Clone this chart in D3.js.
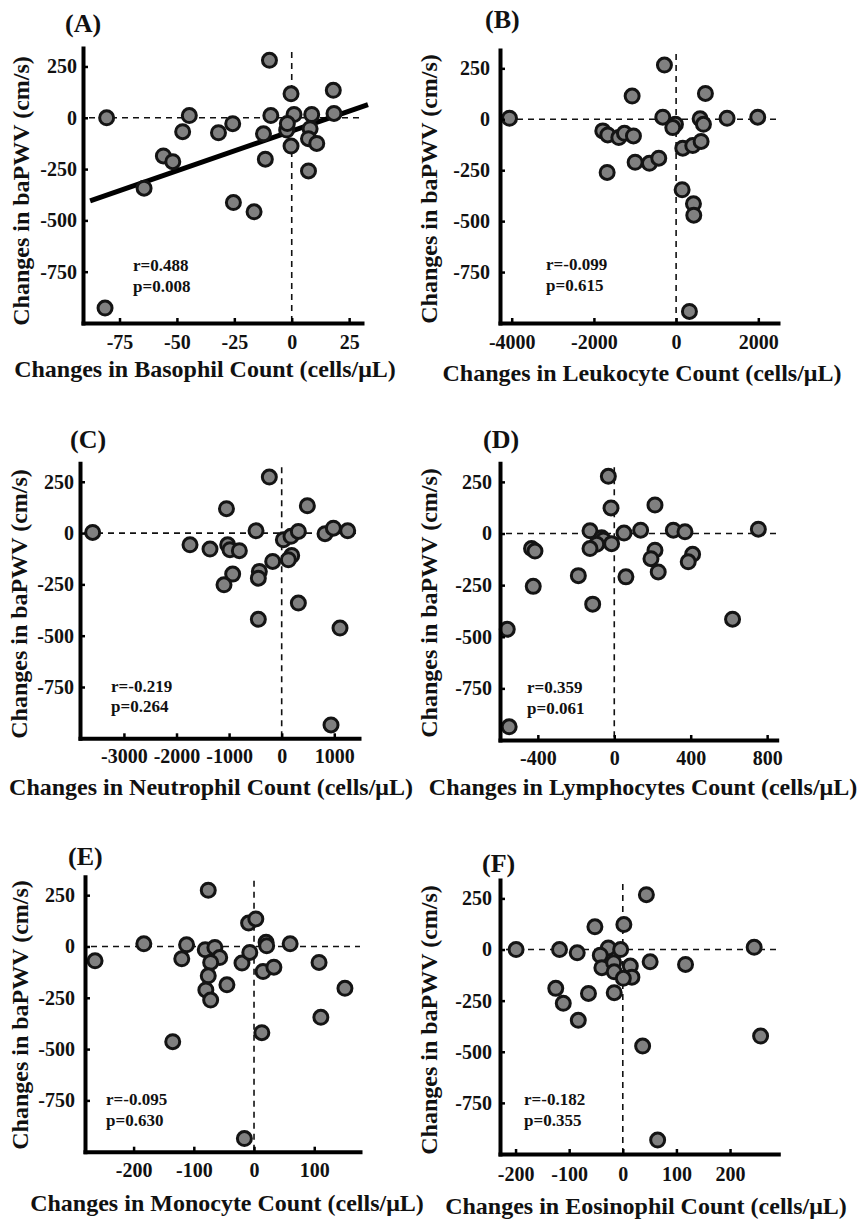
<!DOCTYPE html>
<html><head><meta charset="utf-8">
<script src="https://cdn.jsdelivr.net/npm/d3@7"></script>
<style>
html,body{margin:0;padding:0;background:#fff;}
svg{display:block;}
text{font-family:"Liberation Serif","Times New Roman",serif;font-weight:bold;fill:#111;}
</style></head><body>
<svg id="chart" width="860" height="1220"></svg>
<script>
// ---------- DATA ----------
const yTicks = [250, 0, -250, -500, -750];
const yTitle = "Changes in baPWV (cm/s)";

// (A) Basophil
const basophilTicks = [-75, -50, -25, 0, 25];
const basophilX = [-80.6, -81.3, -44.6, -47.5, -55.9, -51.8, -64.3, -31.9, -25.7, -25.4, -16.4, -9.7, -9.1, -12.3, -11.5, -0.3, 1.0, -2.2, -0.3, -1.9, 8.7, 8.0, 7.3, 10.9, 7.3, 18.4, 18.1];
const basophilY = [0, -927, 11, -68, -186, -214, -343, -73, -29, -413, -458, 280, 11, -78, -202, 117, 16, -60, -138, -28, 16, -53, -102, -125, -259, 21, 134];
const basophilFitX = [-87.8, 33.2];
const basophilFitCoef = [-64.2, 3.88]; // intercept, slope

// (B) Leukocyte
const leukocyteTicks = [-4000, -2000, 0, 2000];
const leukocyteX = [-4054, -284, -1070, 713, -324, -16, -81, 584, 665, 1240, 1986, -1784, -1662, -1394, -1257, -1038, -1678, -997, -649, -422, 162, 405, 608, 146, 422, 430, 324];
const leukocyteY = [5, 266, 114, 127, 10, -25, -41, 2, -25, 5, 10, -57, -77, -90, -69, -82, -261, -211, -216, -191, -142, -129, -109, -346, -415, -471, -943];

// (C) Neutrophil
const neutrophilTicks = [-3000, -2000, -1000, 0, 1000];
const neutrophilX = [-3594, -235, -1050, 488, -488, -1743, -1363, -1027, -983, -805, -932, -1097, -425, -444, -171, -444, 32, 177, 317, 190, 127, 317, 824, 983, 1255, 1109, 938];
const neutrophilY = [3, 273, 119, 133, 11, -57, -78, -57, -81, -86, -200, -252, -187, -220, -138, -420, -33, -16, 8, -109, -130, -341, -3, 24, 11, -463, -935];

// (D) Lymphocytes
const lymphocyteTicks = [-400, 0, 400, 800];
const lymphocyteX = [-31, -17, 213, -127, -66, -57, -92, -127, -14, 51, 138, 309, 370, 754, -433, -415, -424, -188, -113, 61, 213, 192, 230, 410, 387, -560, -550, 619];
const lymphocyteY = [277, 124, 138, 13, -20, -31, -52, -73, -49, 2, 16, 16, 8, 21, -73, -85, -256, -204, -342, -210, -81, -122, -186, -101, -137, -464, -936, -415];

// (E) Monocyte
const monocyteTicks = [-200, -100, 0, 100];
const monocyteX = [-264, -183, -76, -9, 3, -112, -120, -81, -65, -57, -72, -76, -80, -72, -45, -20, -7, 20, 21, 15, 33, 60, 108, 151, 111, 13, -135, -16];
const monocyteY = [-70, 13, 274, 114, 134, 8, -60, -16, -5, -54, -78, -143, -212, -261, -187, -81, -29, 20, 3, -122, -101, 13, -78, -204, -345, -420, -464, -936];

// (F) Eosinophil
const eosinophilTicks = [-200, -100, 0, 100, 200];
const eosinophilX = [-199, -118, -85, 44, -52, 2, -27, -4, -42, -39, -17, -16, 14, 17, 1, -16, 51, 117, 245, -125, -111, -64, -83, 37, 257, 65];
const eosinophilY = [0, 0, -16, 268, 111, 122, 8, 0, -28, -89, -65, -109, -81, -135, -141, -211, -60, -73, 11, -190, -263, -215, -346, -472, -423, -932];

const panelLabels = ["(A)", "(B)", "(C)", "(D)", "(E)", "(F)"];
const xTitles = [
  "Changes in Basophil Count (cells/\u03BCL)",
  "Changes in Leukocyte Count (cells/\u03BCL)",
  "Changes in Neutrophil Count (cells/\u03BCL)",
  "Changes in Lymphocytes Count (cells/\u03BCL)",
  "Changes in Monocyte Count (cells/\u03BCL)",
  "Changes in Eosinophil Count (cells/\u03BCL)"
];
const rTexts = ["r=0.488", "r=-0.099", "r=-0.219", "r=0.359", "r=-0.095", "r=-0.182"];
const pTexts = ["p=0.008", "p=0.615", "p=0.264", "p=0.061", "p=0.630", "p=0.355"];

// ---------- LAYOUT ----------
const yDomain = [-1000, 340];
const layout = [
  {l:83,  t:48,    r:362,   b:323,    xDomain:[-90.9, 30.6], yPad:6,  xPad:12, xt:[205,377],  yt:[29,191],   lab:[65,32],   rp:[133,271,292]},
  {l:500, t:50,    r:778,   b:323,    xDomain:[-4285, 2479], yPad:10, xPad:12, xt:[642,381],  yt:[437,189],  lab:[485,28],  rp:[546,270,291]},
  {l:80,  t:463.3, r:359,   b:738.3,  xDomain:[-3835, 1470], yPad:6,  xPad:11, xt:[211,795],  yt:[27,604],   lab:[70,448],  rp:[111,692,712]},
  {l:500, t:463.3, r:776.7, b:740,    xDomain:[-598, 850],   yPad:8,  xPad:11, xt:[643,795],  yt:[437,603],  lab:[483,448], rp:[527,693,714]},
  {l:85,  t:876.7, r:360,   b:1151.7, xDomain:[-280.7, 176], yPad:10, xPad:11, xt:[227,1211], yt:[28,1015],  lab:[68,865],  rp:[106,1105,1126]},
  {l:500, t:880,   r:778.3, b:1154,   xDomain:[-229, 290],   yPad:8,  xPad:13, xt:[646,1214], yt:[437,1020], lab:[482,872], rp:[524,1105,1126]}
];

const panelData = [
  {xs:basophilX,   ys:basophilY,   ticks:basophilTicks,   fit:{xr:basophilFitX, c:basophilFitCoef}},
  {xs:leukocyteX,  ys:leukocyteY,  ticks:leukocyteTicks},
  {xs:neutrophilX, ys:neutrophilY, ticks:neutrophilTicks},
  {xs:lymphocyteX, ys:lymphocyteY, ticks:lymphocyteTicks},
  {xs:monocyteX,   ys:monocyteY,   ticks:monocyteTicks},
  {xs:eosinophilX, ys:eosinophilY, ticks:eosinophilTicks}
];

const svg = d3.select("#chart");
const FONT = '"Liberation Serif","Times New Roman",serif';

panelData.forEach((pd, i) => {
  const L = layout[i];
  const g = svg.append("g");
  const x = d3.scaleLinear().domain(L.xDomain).range([L.l, L.r]);
  const y = d3.scaleLinear().domain(yDomain).range([L.b, L.t]);

  // reference dashed lines
  g.append("line")
    .attr("x1", L.l + 6).attr("x2", L.r).attr("y1", y(0)).attr("y2", y(0))
    .attr("stroke", "#111").attr("stroke-width", 1.6).attr("stroke-dasharray", "6,5");
  g.append("line")
    .attr("x1", x(0)).attr("x2", x(0)).attr("y1", L.t + 4).attr("y2", L.b)
    .attr("stroke", "#111").attr("stroke-width", 1.6).attr("stroke-dasharray", "6,5");

  // regression line
  if (pd.fit) {
    const fx = pd.fit.xr;
    g.append("line")
      .attr("x1", x(fx[0])).attr("y1", y(pd.fit.c[0] + pd.fit.c[1] * fx[0]))
      .attr("x2", x(fx[1])).attr("y2", y(pd.fit.c[0] + pd.fit.c[1] * fx[1]))
      .attr("stroke", "#000").attr("stroke-width", 5);
  }

  // points
  const pts = pd.xs.map((v, k) => [v, pd.ys[k]]);
  g.selectAll("circle.pt").data(pts).enter().append("circle")
    .attr("class", "pt")
    .attr("cx", d => x(d[0])).attr("cy", d => y(d[1])).attr("r", 7)
    .attr("fill", "#808080").attr("stroke", "#141414").attr("stroke-width", 3);

  // axes
  const xAxis = d3.axisBottom(x).tickValues(pd.ticks).tickSize(-5).tickSizeOuter(0)
    .tickPadding(L.xPad).tickFormat(d => String(d));
  const yAxis = d3.axisLeft(y).tickValues(yTicks).tickSize(-5).tickSizeOuter(0)
    .tickPadding(L.yPad).tickFormat(d => String(d));
  const gx = g.append("g").attr("transform", `translate(0,${L.b})`).call(xAxis);
  const gy = g.append("g").attr("transform", `translate(${L.l},0)`).call(yAxis);
  [gx, gy].forEach(ax => {
    ax.select(".domain").attr("stroke", "#000").attr("stroke-width", 4).attr("stroke-linecap", "square");
    ax.selectAll(".tick line").attr("stroke", "#000").attr("stroke-width", 2.5);
    ax.selectAll(".tick text").attr("font-family", FONT).attr("font-weight", "bold")
      .attr("font-size", 20).attr("fill", "#111");
  });

  // stats text
  g.append("text").attr("x", L.rp[0]).attr("y", L.rp[1]).attr("font-size", 17).text(rTexts[i]);
  g.append("text").attr("x", L.rp[0]).attr("y", L.rp[2]).attr("font-size", 17).text(pTexts[i]);

  // panel label
  g.append("text").attr("x", L.lab[0]).attr("y", L.lab[1]).attr("font-size", 26).text(panelLabels[i]);

  // axis titles
  g.append("text").attr("x", L.xt[0]).attr("y", L.xt[1]).attr("text-anchor", "middle")
    .attr("font-size", 24).text(xTitles[i]);
  g.append("text").attr("transform", `translate(${L.yt[0]},${L.yt[1]}) rotate(-90)`)
    .attr("text-anchor", "middle").attr("font-size", 24).text(yTitle);
});
</script>
</body></html>
